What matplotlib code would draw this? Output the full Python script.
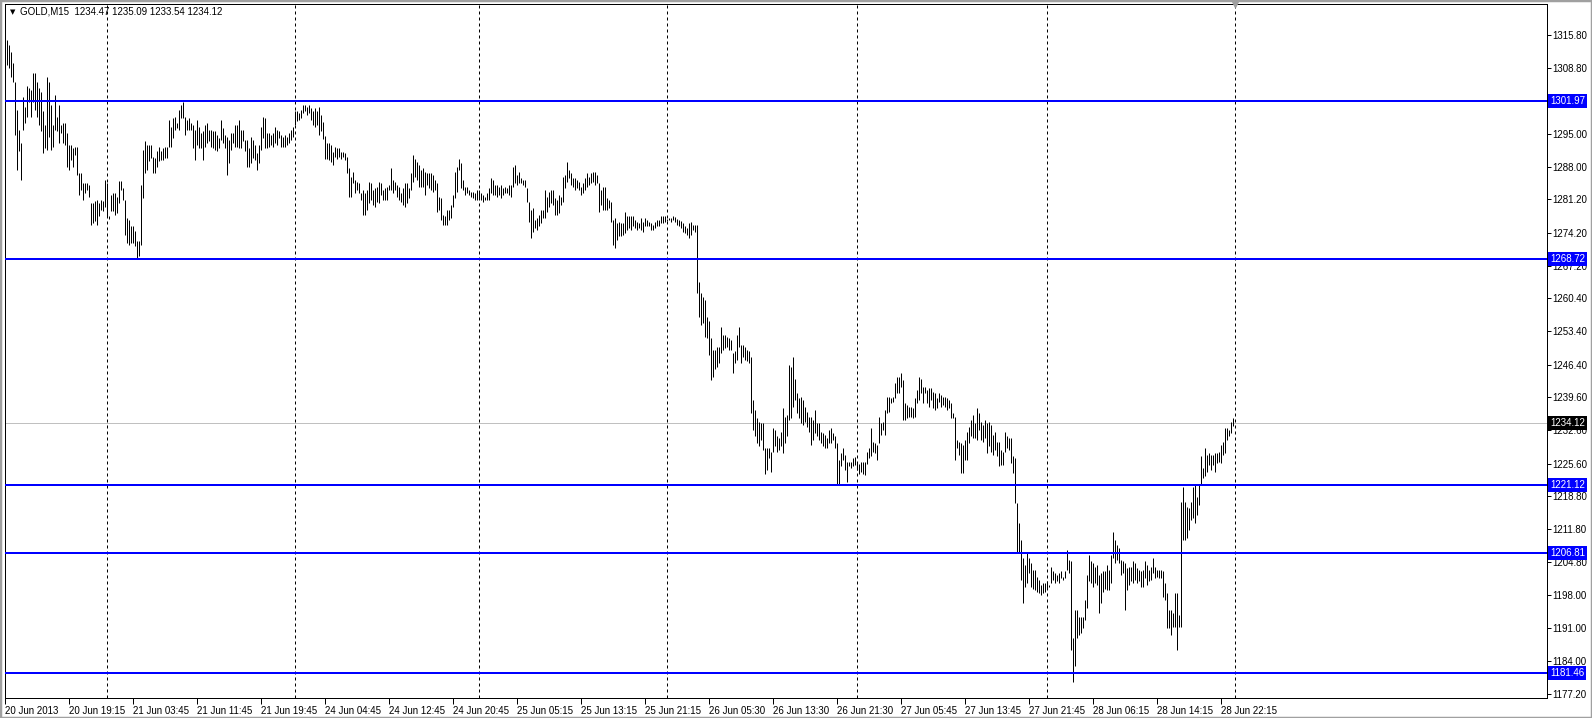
import matplotlib
matplotlib.use('Agg')
import matplotlib.pyplot as plt
import matplotlib.transforms as mtransforms
from matplotlib.patches import Rectangle
import numpy as np

""" GOLD M15 bar chart, 20-28 Jun 2013, with horizontal support/resistance levels """

# bar highs / lows, one per 15 minute bar (10 per row)
highs = [
    1315.1, 1314.7, 1313.7, 1312.3, 1309.8, 1306.0, 1300.0, 1295.8, 1293.0, 1302.8,
    1300.7, 1305.0, 1304.6, 1304.2, 1307.7, 1307.7, 1306.0, 1304.6, 1303.9, 1299.7,
    1296.9, 1307.0, 1306.0, 1301.1, 1296.9, 1303.2, 1298.6, 1301.1, 1296.9, 1297.2,
    1297.2, 1295.1, 1292.7, 1292.7, 1292.0, 1292.3, 1292.3, 1286.7, 1286.7, 1284.6,
    1284.6, 1284.6, 1284.3, 1280.4, 1280.4, 1280.8, 1281.1, 1280.4, 1281.1, 1280.8,
    1285.3, 1284.6, 1277.6, 1282.2, 1282.5, 1282.5, 1281.8, 1285.0, 1285.0, 1283.6,
    1281.1, 1277.3, 1276.9, 1275.5, 1275.5, 1274.5, 1272.4, 1272.4, 1284.3, 1291.6,
    1293.4, 1292.7, 1292.7, 1292.7, 1290.2, 1289.9, 1291.3, 1292.3, 1291.3, 1292.0,
    1292.3, 1292.3, 1297.9, 1296.5, 1298.3, 1298.6, 1297.2, 1300.0, 1301.1, 1301.8,
    1298.6, 1297.9, 1298.3, 1297.2, 1296.9, 1295.8, 1297.9, 1296.5, 1295.1, 1295.5,
    1296.9, 1297.2, 1295.8, 1295.8, 1295.5, 1295.5, 1294.8, 1294.1, 1297.9, 1296.2,
    1294.8, 1294.4, 1293.7, 1295.1, 1295.1, 1296.9, 1296.9, 1297.9, 1295.8, 1295.8,
    1293.7, 1293.7, 1292.0, 1294.4, 1293.7, 1292.7, 1290.9, 1292.7, 1296.5, 1298.6,
    1298.3, 1295.1, 1295.1, 1294.8, 1295.1, 1296.5, 1295.8, 1295.5, 1294.8, 1294.4,
    1294.8, 1294.4, 1295.1, 1295.8, 1296.5, 1299.7, 1299.7, 1299.3, 1300.0, 1301.1,
    1301.1, 1300.7, 1301.1, 1300.4, 1299.7, 1300.4, 1299.7, 1300.7, 1299.0, 1297.5,
    1294.5, 1293.0, 1293.0, 1292.7, 1291.2, 1292.3, 1292.0, 1292.0, 1291.2, 1291.2,
    1290.9, 1290.2, 1287.7, 1286.0, 1287.0, 1285.3, 1284.9, 1284.6, 1282.5, 1283.2,
    1282.5, 1283.2, 1284.9, 1284.6, 1283.2, 1283.5, 1283.9, 1284.9, 1284.6, 1283.2,
    1283.5, 1283.9, 1284.2, 1287.7, 1285.3, 1284.9, 1284.2, 1283.9, 1282.5, 1283.5,
    1284.6, 1284.6, 1283.5, 1286.7, 1290.5, 1289.8, 1289.1, 1288.4, 1287.4, 1287.7,
    1287.0, 1286.7, 1286.7, 1286.7, 1286.3, 1285.3, 1284.6, 1281.8, 1281.4, 1277.9,
    1277.6, 1279.0, 1279.0, 1280.0, 1282.1, 1287.0, 1288.1, 1289.8, 1288.8, 1285.3,
    1283.9, 1283.9, 1283.2, 1282.8, 1282.8, 1282.5, 1283.2, 1283.2, 1282.5, 1282.1,
    1281.8, 1282.5, 1283.5, 1285.6, 1285.3, 1284.2, 1284.2, 1283.9, 1284.2, 1283.5,
    1283.9, 1283.5, 1284.2, 1284.2, 1288.1, 1288.4, 1286.3, 1287.0, 1285.6, 1285.3,
    1285.3, 1283.5, 1280.7, 1279.0, 1279.3, 1276.9, 1277.2, 1277.9, 1279.0, 1279.0,
    1283.2, 1281.8, 1282.8, 1283.2, 1283.2, 1281.4, 1281.1, 1282.1, 1281.8, 1286.0,
    1286.3, 1289.1, 1287.4, 1286.7, 1285.6, 1285.6, 1285.3, 1284.9, 1283.9, 1284.6,
    1285.6, 1286.7, 1286.0, 1286.7, 1287.0, 1287.0, 1286.3, 1284.6, 1283.2, 1283.9,
    1283.9, 1281.4, 1281.1, 1280.7, 1276.9, 1277.2, 1276.2, 1276.5, 1276.2, 1276.2,
    1278.6, 1277.6, 1277.6, 1277.6, 1277.6, 1276.9, 1276.5, 1276.2, 1277.2, 1276.5,
    1277.2, 1276.9, 1276.5, 1276.2, 1275.8, 1276.5, 1276.9, 1276.9, 1277.6, 1277.6,
    1277.7, 1277.0, 1277.2, 1277.2, 1277.7, 1277.4, 1277.0, 1276.9, 1276.7, 1276.2,
    1275.5, 1275.1, 1276.2, 1276.5, 1275.8, 1275.8, 1275.8, 1263.9, 1261.4, 1260.7,
    1260.0, 1256.5, 1255.5, 1252.0, 1249.5, 1249.5, 1250.2, 1250.2, 1254.4, 1252.7,
    1252.7, 1252.3, 1252.0, 1251.6, 1248.8, 1249.2, 1252.7, 1254.4, 1250.6, 1250.6,
    1250.2, 1249.5, 1249.2, 1248.1, 1239.0, 1236.9, 1235.1, 1234.4, 1234.1, 1234.1,
    1228.8, 1228.8, 1228.8, 1228.1, 1233.0, 1232.7, 1231.3, 1230.9, 1232.3, 1237.2,
    1235.5, 1235.8, 1246.3, 1246.0, 1248.1, 1243.5, 1240.4, 1239.3, 1239.7, 1239.0,
    1237.6, 1236.5, 1235.5, 1235.5, 1234.8, 1236.9, 1234.1, 1234.1, 1232.3, 1232.0,
    1231.6, 1230.9, 1232.7, 1233.0, 1232.0, 1231.3, 1229.9, 1226.4, 1227.8, 1228.8,
    1227.4, 1226.0, 1226.0, 1226.0, 1226.7, 1227.0, 1226.0, 1225.6, 1226.0, 1226.0,
    1226.0, 1228.1, 1228.8, 1233.0, 1230.2, 1229.9, 1229.5, 1235.5, 1234.1, 1234.4,
    1236.9, 1239.7, 1239.7, 1239.3, 1239.7, 1242.5, 1243.9, 1243.9, 1244.6, 1243.2,
    1238.3, 1237.9, 1237.6, 1237.6, 1237.2, 1239.3, 1241.1, 1243.9, 1243.5, 1241.8,
    1241.8, 1241.1, 1241.4, 1241.4, 1240.7, 1240.4, 1239.3, 1240.4, 1240.0, 1239.7,
    1239.7, 1239.3, 1239.0, 1238.3, 1236.2, 1235.5, 1230.6, 1230.2, 1229.9, 1229.5,
    1230.6, 1232.3, 1233.4, 1234.8, 1235.8, 1234.1, 1237.2, 1236.2, 1234.4, 1233.7,
    1234.8, 1234.1, 1234.4, 1233.7, 1231.6, 1232.3, 1230.2, 1230.2, 1228.5, 1228.1,
    1232.3, 1231.3, 1230.9, 1230.9, 1227.1, 1226.7, 1217.2, 1213.0, 1209.5, 1205.7,
    1204.3, 1206.7, 1205.7, 1204.6, 1203.2, 1203.2, 1201.8, 1201.1, 1200.1, 1200.4,
    1200.4, 1200.8, 1200.1, 1203.9, 1202.9, 1202.5, 1202.2, 1202.5, 1202.9, 1201.8,
    1202.9, 1207.4, 1205.3, 1205.0, 1188.8, 1194.8, 1194.8, 1193.4, 1193.4, 1193.4,
    1196.9, 1202.2, 1206.4, 1205.0, 1204.6, 1203.9, 1204.3, 1202.2, 1202.5, 1202.9,
    1202.9, 1204.3, 1203.2, 1206.4, 1211.3, 1209.5, 1208.5, 1207.8, 1205.3, 1205.0,
    1204.6, 1203.6, 1203.9, 1203.9, 1205.0, 1204.6, 1203.6, 1203.2, 1202.9, 1203.2,
    1205.0, 1204.3, 1203.2, 1203.9, 1205.7, 1203.9, 1203.2, 1203.2, 1203.2, 1202.9,
    1200.4, 1198.3, 1194.8, 1194.8, 1194.1, 1198.3, 1198.3, 1193.7, 1217.6, 1220.7,
    1217.6, 1216.5, 1216.2, 1217.6, 1220.7, 1221.1, 1218.6, 1221.1, 1227.1, 1224.6,
    1228.8, 1227.4, 1227.8, 1227.4, 1227.4, 1227.8, 1227.8, 1228.1, 1229.5, 1230.2,
    1233.0, 1233.0, 1232.7, 1234.4, 1235.09,
]
lows = [
    1309.8, 1309.5, 1308.8, 1307.0, 1306.0, 1294.8, 1287.4, 1291.3, 1285.3, 1295.8,
    1297.2, 1298.6, 1301.8, 1298.6, 1301.8, 1300.0, 1298.6, 1296.9, 1295.5, 1290.9,
    1292.0, 1291.6, 1294.4, 1291.6, 1292.3, 1295.8, 1295.5, 1293.0, 1295.1, 1293.0,
    1292.7, 1288.1, 1287.4, 1289.5, 1288.1, 1290.6, 1286.4, 1282.2, 1283.2, 1281.1,
    1282.5, 1283.2, 1281.8, 1275.9, 1276.2, 1276.6, 1275.9, 1277.6, 1279.0, 1278.7,
    1279.7, 1277.6, 1277.0, 1278.7, 1278.7, 1278.0, 1278.4, 1280.4, 1283.2, 1281.1,
    1273.8, 1272.0, 1271.7, 1272.0, 1272.0, 1271.3, 1268.9, 1269.2, 1271.7, 1281.5,
    1286.7, 1287.4, 1289.2, 1289.9, 1286.7, 1286.7, 1288.1, 1289.2, 1289.5, 1289.5,
    1289.9, 1289.9, 1292.3, 1292.3, 1294.1, 1295.8, 1296.2, 1295.8, 1298.3, 1298.3,
    1294.8, 1295.8, 1295.8, 1295.8, 1292.0, 1289.5, 1292.7, 1292.0, 1292.0, 1289.5,
    1292.3, 1293.0, 1293.4, 1292.3, 1292.0, 1291.6, 1291.3, 1292.0, 1293.7, 1293.0,
    1292.0, 1286.4, 1288.8, 1291.6, 1293.0, 1292.3, 1292.3, 1292.0, 1292.0, 1293.4,
    1291.3, 1288.1, 1288.1, 1288.8, 1289.9, 1289.5, 1287.4, 1288.8, 1291.6, 1294.1,
    1292.0, 1292.0, 1292.3, 1292.7, 1292.3, 1293.0, 1292.7, 1294.1, 1292.3, 1292.3,
    1292.3, 1292.7, 1293.0, 1293.7, 1294.4, 1296.9, 1297.6, 1297.9, 1298.3, 1299.3,
    1299.7, 1299.0, 1299.3, 1297.9, 1296.9, 1296.5, 1296.9, 1294.8, 1295.5, 1294.0,
    1289.8, 1289.8, 1289.5, 1289.1, 1288.4, 1290.2, 1289.8, 1290.2, 1289.8, 1290.2,
    1289.5, 1286.7, 1281.8, 1281.8, 1284.6, 1282.5, 1283.2, 1282.5, 1281.1, 1277.9,
    1277.9, 1279.0, 1280.4, 1281.1, 1280.0, 1279.7, 1280.7, 1280.4, 1282.1, 1281.1,
    1281.1, 1281.1, 1283.2, 1283.2, 1282.5, 1283.2, 1281.8, 1281.1, 1280.7, 1280.0,
    1279.7, 1280.4, 1281.4, 1283.2, 1284.9, 1286.0, 1285.3, 1283.9, 1283.9, 1283.9,
    1282.1, 1284.2, 1283.5, 1283.2, 1282.8, 1283.2, 1278.6, 1279.0, 1276.9, 1275.8,
    1275.8, 1275.8, 1276.9, 1277.2, 1279.7, 1281.4, 1282.8, 1287.4, 1283.5, 1283.2,
    1282.1, 1282.5, 1282.1, 1281.8, 1281.4, 1281.1, 1281.1, 1281.4, 1281.1, 1280.7,
    1281.1, 1281.1, 1281.1, 1282.5, 1282.1, 1282.1, 1281.8, 1282.1, 1281.4, 1282.1,
    1282.5, 1282.5, 1282.1, 1281.8, 1283.9, 1284.6, 1284.2, 1284.6, 1284.6, 1284.2,
    1283.9, 1280.7, 1276.5, 1273.0, 1274.4, 1275.1, 1274.8, 1275.5, 1276.2, 1277.2,
    1277.2, 1278.6, 1279.7, 1280.4, 1280.0, 1277.9, 1277.9, 1278.3, 1280.0, 1280.7,
    1283.5, 1284.9, 1285.6, 1284.2, 1283.9, 1283.2, 1283.5, 1283.2, 1282.1, 1282.5,
    1283.2, 1283.9, 1284.2, 1284.6, 1284.9, 1284.2, 1284.6, 1278.6, 1280.0, 1279.0,
    1279.0, 1279.0, 1279.3, 1276.5, 1271.6, 1270.9, 1272.7, 1273.4, 1273.4, 1273.7,
    1274.1, 1274.8, 1275.1, 1274.8, 1275.5, 1275.1, 1274.8, 1275.1, 1274.8, 1274.4,
    1275.5, 1275.5, 1275.5, 1274.8, 1274.8, 1275.1, 1275.5, 1275.5, 1276.2, 1276.2,
    1276.5, 1276.7, 1276.9, 1276.5, 1276.9, 1276.5, 1275.8, 1275.5, 1275.1, 1274.4,
    1274.1, 1273.7, 1273.0, 1273.7, 1274.8, 1274.4, 1261.4, 1256.5, 1254.8, 1255.1,
    1252.3, 1252.0, 1248.5, 1243.2, 1243.9, 1245.6, 1246.0, 1246.7, 1248.8, 1249.5,
    1249.9, 1250.2, 1249.5, 1249.5, 1244.6, 1246.7, 1247.4, 1250.2, 1246.7, 1248.1,
    1247.4, 1247.1, 1246.7, 1236.2, 1232.7, 1231.3, 1229.9, 1229.2, 1230.6, 1228.5,
    1223.5, 1224.2, 1226.7, 1223.9, 1228.1, 1229.2, 1228.1, 1228.5, 1229.2, 1227.8,
    1229.9, 1231.3, 1234.8, 1235.1, 1237.6, 1239.0, 1236.2, 1235.1, 1234.1, 1233.7,
    1234.4, 1233.4, 1232.3, 1229.5, 1230.6, 1232.0, 1231.3, 1230.6, 1229.9, 1229.2,
    1228.8, 1228.8, 1229.9, 1229.9, 1230.6, 1228.8, 1221.1, 1221.1, 1225.0, 1226.4,
    1224.2, 1221.8, 1225.0, 1224.6, 1225.0, 1225.3, 1224.2, 1223.5, 1223.9, 1223.5,
    1223.2, 1225.6, 1226.7, 1227.1, 1228.1, 1227.8, 1226.4, 1229.9, 1231.6, 1232.7,
    1231.6, 1236.2, 1236.5, 1238.3, 1238.6, 1239.3, 1240.4, 1240.4, 1241.8, 1234.8,
    1234.8, 1235.1, 1235.5, 1235.5, 1235.1, 1235.5, 1238.3, 1239.0, 1240.4, 1238.3,
    1240.4, 1238.3, 1237.6, 1239.0, 1237.2, 1236.9, 1237.2, 1238.6, 1237.6, 1237.9,
    1237.6, 1236.9, 1237.2, 1235.1, 1235.1, 1226.4, 1228.8, 1227.4, 1223.6, 1223.6,
    1226.4, 1226.4, 1229.9, 1231.3, 1230.9, 1230.9, 1230.6, 1232.7, 1230.6, 1230.2,
    1230.9, 1227.8, 1229.2, 1228.1, 1227.4, 1228.5, 1227.1, 1225.0, 1225.3, 1225.3,
    1228.1, 1228.8, 1228.5, 1225.7, 1223.6, 1217.2, 1206.7, 1206.7, 1201.1, 1196.2,
    1199.7, 1200.4, 1202.5, 1199.7, 1199.3, 1199.0, 1198.6, 1198.3, 1197.9, 1198.3,
    1198.6, 1199.3, 1199.7, 1200.4, 1201.1, 1200.4, 1200.8, 1200.4, 1201.5, 1201.1,
    1201.5, 1203.2, 1202.5, 1186.4, 1179.7, 1182.9, 1188.8, 1189.5, 1189.9, 1190.9,
    1192.7, 1195.1, 1200.8, 1200.4, 1199.7, 1200.4, 1200.1, 1194.1, 1196.2, 1198.6,
    1199.3, 1199.0, 1199.0, 1200.4, 1205.7, 1204.6, 1205.3, 1204.6, 1202.2, 1202.5,
    1194.8, 1199.0, 1200.1, 1200.8, 1200.4, 1201.1, 1200.4, 1200.8, 1199.7, 1199.7,
    1201.5, 1200.1, 1200.8, 1201.1, 1202.5, 1201.5, 1201.8, 1201.5, 1201.5, 1197.6,
    1196.9, 1190.9, 1190.9, 1189.5, 1191.3, 1191.3, 1186.4, 1191.3, 1191.3, 1209.5,
    1209.5, 1209.9, 1211.6, 1213.7, 1214.1, 1213.0, 1214.8, 1216.9, 1221.1, 1222.5,
    1222.9, 1223.9, 1225.3, 1224.3, 1225.3, 1223.9, 1225.7, 1226.0, 1225.7, 1227.4,
    1227.8, 1230.6, 1231.3, 1232.0, 1233.54,
]

levels = [1301.97, 1268.72, 1221.12, 1206.81, 1181.46]
last_price = 1234.12
header = "GOLD,M15  1234.47 1235.09 1233.54 1234.12"

price_ticks = [1315.80, 1308.80, 1295.00, 1288.00, 1281.20, 1274.20, 1267.20,
               1260.40, 1253.40, 1246.40, 1239.60, 1232.60, 1225.60, 1218.80,
               1211.80, 1204.80, 1198.00, 1191.00, 1184.00, 1177.20]

time_ticks = [0, 32, 64, 96, 128, 160, 192, 224, 256, 288,
              320, 352, 384, 416, 448, 480, 512, 544, 576, 608]
time_labels = ["20 Jun 2013", "20 Jun 19:15", "21 Jun 03:45", "21 Jun 11:45",
               "21 Jun 19:45", "24 Jun 04:45", "24 Jun 12:45", "24 Jun 20:45",
               "25 Jun 05:15", "25 Jun 13:15", "25 Jun 21:15", "26 Jun 05:30",
               "26 Jun 13:30", "26 Jun 21:30", "27 Jun 05:45", "27 Jun 13:45",
               "27 Jun 21:45", "28 Jun 06:15", "28 Jun 14:15", "28 Jun 22:15"]

# bar index of the first bar of each day (period separators)
day_starts = [51, 145, 237, 331, 426, 521, 615]
shift_bar = 615  # chart shift marker

plt.rcParams['font.family'] = ['Liberation Sans', 'DejaVu Sans']

W, H = 1592, 718
fig = plt.figure(figsize=(W / 100, H / 100), dpi=100)
fig.patch.set_facecolor('white')
ax = fig.add_axes([4.5 / W, 20 / H, 1542.5 / W, 694 / H])

px = 0.72  # one pixel in points
x = np.arange(len(highs))
ax.vlines(x, lows, highs, color='black', linewidth=px, zorder=3)

for d in day_starts:
    ax.axvline(d, color='black', linewidth=px, linestyle=(0, (3, 3)), zorder=1)

ax.axhline(last_price, color='#c0c0c0', linewidth=px, zorder=2)
for lv in levels:
    ax.axhline(lv, color='#0000ff', linewidth=2 * px, zorder=4)

ax.set_xlim(-0.25, 771)
ax.set_ylim(1176.26, 1322.32)

for s in ax.spines.values():
    s.set_linewidth(px)

ax.yaxis.tick_right()
ax.set_yticks(price_ticks)
ax.set_yticklabels(['%.2f' % p for p in price_ticks])
ax.tick_params(axis='y', length=3, width=px, pad=1, labelsize=7)

ax.set_xticks(time_ticks)
ax.set_xticklabels(time_labels, ha='left')
ax.tick_params(axis='x', length=4, width=px, pad=1.5, labelsize=7)

# price boxes on the right axis
ytrans = mtransforms.blended_transform_factory(ax.transAxes, ax.transData)
box_trans = mtransforms.offset_copy(ytrans, fig=fig, x=3, y=0, units='dots')
for lv in levels:
    ax.text(1.0, lv, '%.2f' % lv, transform=box_trans, ha='left', va='center',
            color='white', fontsize=7, clip_on=False, zorder=10,
            bbox=dict(boxstyle='square,pad=0.2', fc='#0000ff', ec='none'))
ax.text(1.0, last_price, '%.2f' % last_price, transform=box_trans, ha='left',
        va='center', color='white', fontsize=7, clip_on=False, zorder=10,
        bbox=dict(boxstyle='square,pad=0.2', fc='black', ec='none'))

# chart shift marker at the top edge
xtrans = mtransforms.blended_transform_factory(ax.transData, ax.transAxes)
ax.plot([shift_bar], [1.0], transform=xtrans, marker='v', color='#a0a0a0',
        markersize=5, clip_on=False, zorder=10)

# header in the top-left corner
tri_trans = mtransforms.offset_copy(ax.transAxes, fig=fig, x=8, y=-8, units='dots')
ax.text(0, 1, '\u25bc', transform=tri_trans, ha='center', va='center',
        fontsize=5, family=['DejaVu Sans'], color='black')
head_trans = mtransforms.offset_copy(ax.transAxes, fig=fig, x=16, y=-8, units='dots')
ax.text(0, 1, header, transform=head_trans, ha='left', va='center',
        fontsize=7, color='black')

# window frame
fig.patches.append(Rectangle((0, 0), 1, 1, transform=fig.transFigure, fill=False,
                             edgecolor='#a0a0a0', linewidth=2.5))

fig.savefig('out.png', dpi=100, facecolor='white')
